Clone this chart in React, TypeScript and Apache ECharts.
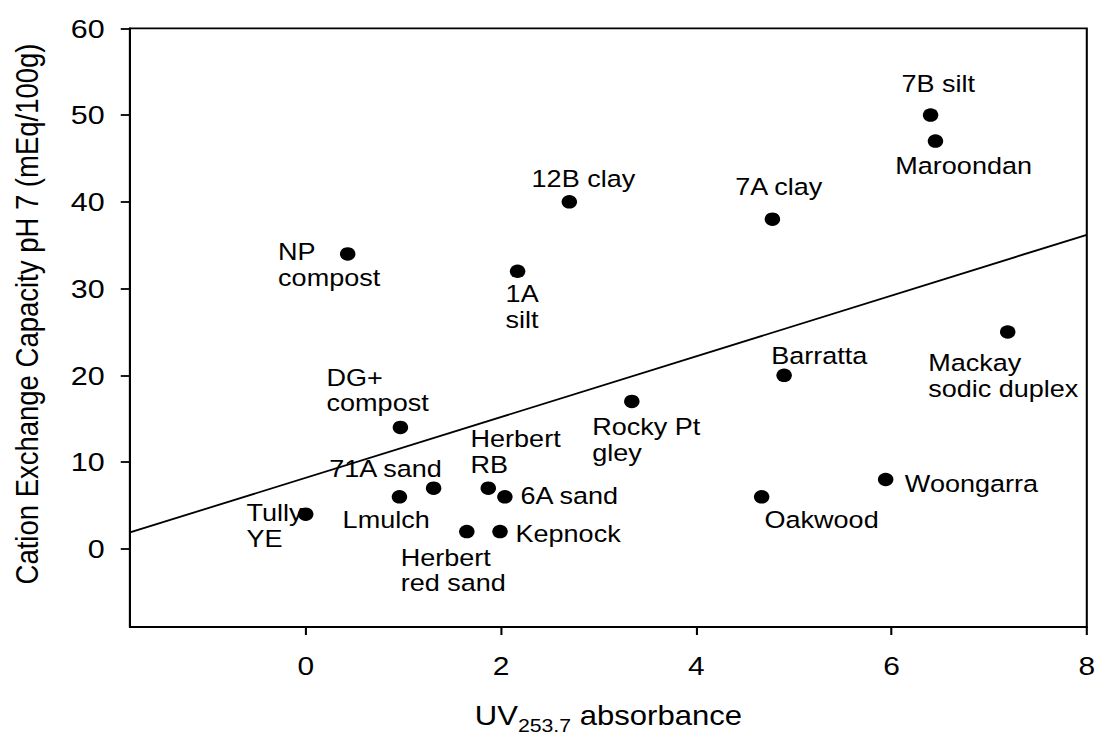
import { useEffect, useRef } from 'react';
import * as echarts from 'echarts';

// Soil samples: UV absorbance at 253.7 nm against cation exchange capacity
const soils = [
  'NP\ncompost',
  '1A\nsilt',
  'DG+\ncompost',
  '71A sand',
  'Lmulch',
  'Herbert\nRB',
  '6A sand',
  'Tully\nYE',
  'Herbert\nred sand',
  'Kepnock',
  '12B clay',
  '7A clay',
  '7B silt',
  'Maroondan',
  'Barratta',
  'Mackay\nsodic duplex',
  'Rocky Pt\ngley',
  'Oakwood',
  'Woongarra',
];
const uvAbsorbance = [0.43, 2.17, 0.97, 1.31, 0.96, 1.87, 2.04, 0.0, 1.65, 1.99, 2.7, 4.78, 6.4, 6.45, 4.9, 7.19, 3.34, 4.67, 5.94];
const cec = [34, 32, 14, 7, 6, 7, 6, 4, 2, 2, 40, 38, 50, 47, 20, 25, 17, 6, 8];

// Fitted regression line end points (x, y)
const fitLine = [
  [-1.8, 1.9],
  [8, 36.2],
];

const xTicks = [0, 2, 4, 6, 8];
const yTicks = [0, 10, 20, 30, 40, 50, 60];

// Where each label sits relative to its point: [dx, dy] from the dot centre, left aligned
const labelOffsets: [number, number][] = [
  [-60.5, 10.7],
  [-10.4, 35.4],
  [-64.2, -37.3],
  [-90.8, -19.2],
  [-49.4, 23],
  [-15.4, -36.7],
  [13.5, -1.5],
  [-51.4, 11.6],
  [-57.5, 38.7],
  [13.5, 2.5],
  [-32.8, -23.4],
  [-32.3, -33],
  [-25.3, -31],
  [-34.9, 25],
  [-11.2, -20],
  [-69.2, 43.8],
  [-34.4, 38.3],
  [2.5, 23],
  [16.7, 4.4],
];

// The figure is drawn slightly condensed and widened back out horizontally
const BASE_W = 953;
const FULL_W = 1096;
const H = 736;
const STRETCH = FULL_W / BASE_W;
const FONT = '"Liberation Sans", Arial, Helvetica, sans-serif';

export default function App() {
  const ref = useRef<HTMLDivElement>(null);

  useEffect(() => {
    document.body.style.margin = '0';
    document.body.style.overflow = 'hidden';
    const chart = echarts.init(ref.current!, undefined, { renderer: 'svg' });

    const axisLine = { show: true, onZero: false, lineStyle: { color: '#000', width: 1.8 } };

    chart.setOption({
      animation: false,
      textStyle: { fontFamily: FONT, color: '#000' },
      grid: {
        left: 113,
        right: 8,
        top: 28.3,
        bottom: 109,
        outerBoundsMode: 'none',
        containLabel: false,
        show: true,
        borderColor: '#000',
        borderWidth: 1.8,
        backgroundColor: 'transparent',
      },
      xAxis: {
        type: 'value',
        min: -1.8,
        max: 8,
        axisLine,
        axisTick: {
          show: true,
          length: 8,
          customValues: xTicks,
          lineStyle: { color: '#000', width: 1.8 },
        },
        axisLabel: {
          customValues: xTicks,
          margin: 26,
          fontSize: 26,
          color: '#000',
          fontFamily: FONT,
        },
        splitLine: { show: false },
        name: '{m|UV}{s|253.7}{m| absorbance}',
        nameLocation: 'middle',
        nameGap: 75,
        nameTextStyle: {
          verticalAlign: 'top',
          rich: {
            m: { fontSize: 27, fontFamily: FONT, color: '#000', verticalAlign: 'top', lineHeight: 27 },
            s: {
              fontSize: 18.5,
              fontFamily: FONT,
              color: '#000',
              verticalAlign: 'top',
              lineHeight: 18.5,
              padding: [14, 0, 0, 0],
            },
          },
        },
      },
      yAxis: {
        type: 'value',
        min: -9,
        max: 60,
        axisLine,
        axisTick: {
          show: true,
          length: 8,
          customValues: yTicks,
          lineStyle: { color: '#000', width: 1.8 },
        },
        axisLabel: {
          customValues: yTicks,
          margin: 22,
          fontSize: 26.5,
          color: '#000',
          fontFamily: FONT,
        },
        splitLine: { show: false },
      },
      graphic: [
        {
          type: 'text',
          x: 23.5,
          y: 314,
          rotation: Math.PI / 2,
          style: {
            text: 'Cation Exchange Capacity pH 7 (mEq/100g)',
            fontSize: 27.5,
            fontFamily: FONT,
            fill: '#000',
            align: 'center',
            verticalAlign: 'middle',
          },
        },
      ],
      series: [
        {
          type: 'line',
          data: fitLine,
          symbol: 'none',
          silent: true,
          lineStyle: { color: '#000', width: 1.8 },
          z: 1,
        },
        {
          type: 'scatter',
          symbol: 'circle',
          symbolSize: 13.5,
          itemStyle: { color: '#000', opacity: 1 },
          silent: true,
          z: 2,
          label: {
            show: true,
            position: 'inside',
            formatter: '{b}',
            fontSize: 23.5,
            lineHeight: 25.7,
            color: '#000',
            opacity: 1,
            fontFamily: FONT,
            align: 'left',
            verticalAlign: 'middle',
          },
          data: soils.map((name, i) => ({
            name,
            value: [uvAbsorbance[i], cec[i]],
            label: { offset: labelOffsets[i] },
          })),
        },
      ],
    });

    return () => chart.dispose();
  }, []);

  return (
    <div
      ref={ref}
      style={{
        position: 'absolute',
        left: 0,
        top: 0,
        width: BASE_W,
        height: H,
        transform: `scaleX(${STRETCH})`,
        transformOrigin: '0 0',
        background: '#fff',
      }}
    />
  );
}
